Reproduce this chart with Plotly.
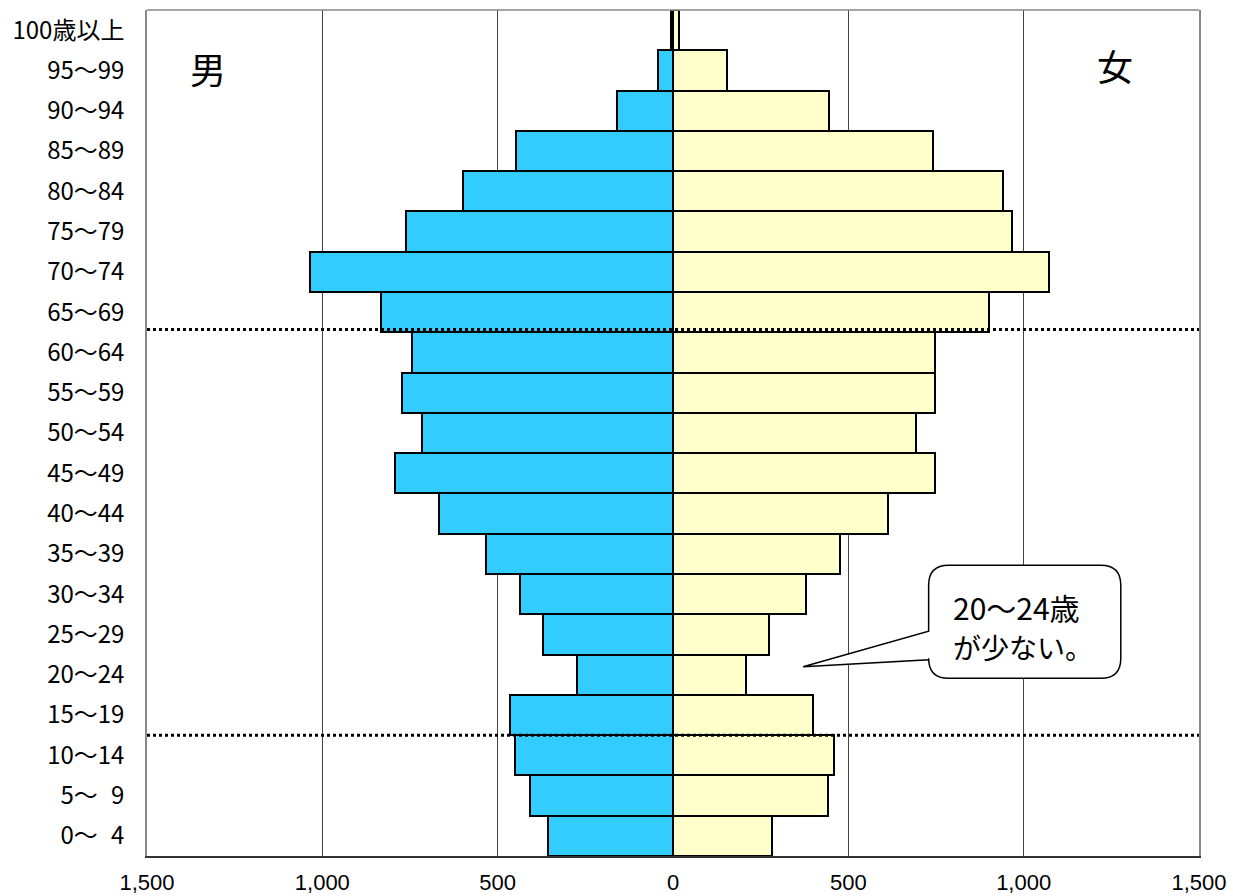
import plotly.graph_objects as go

ages = ["0～\u20074", "5～\u20079", "10～14", "15～19", "20～24", "25～29", "30～34",
        "35～39", "40～44", "45～49", "50～54", "55～59", "60～64", "65～69",
        "70～74", "75～79", "80～84", "85～89", "90～94", "95～99", "100歳以上"]
male = [356, 407, 450, 464, 273, 372, 435, 534, 668, 792, 716, 772, 744, 833,
        1034, 760, 599, 449, 160, 44, 5]
female = [281, 441, 458, 399, 209, 275, 378, 475, 613, 747, 692, 747, 747, 902,
          1073, 966, 942, 742, 445, 154, 18]
x_tickvals = [-1500, -1000, -500, 0, 500, 1000, 1500]
x_ticktext = ["1,500", "1,000", "500", "0", "500", "1,000", "1,500"]

FONT = "Noto Sans CJK JP, Noto Sans, sans-serif"
NUMFONT = "Liberation Sans, Arial, sans-serif"
pos = list(range(len(ages)))

fig = go.Figure()
fig.add_trace(go.Bar(
    y=pos, x=[-v for v in male], orientation="h", name="男",
    marker=dict(color="#33CCFF", line=dict(color="black", width=2)),
    hoverinfo="skip"))
fig.add_trace(go.Bar(
    y=pos, x=female, orientation="h", name="女",
    marker=dict(color="#FFFFCC", line=dict(color="black", width=2)),
    hoverinfo="skip"))

# callout box (data coordinates)
x0, x1 = 729, 1277
y0, y1 = 3.91, 6.72
rx, ry = 57, 0.5
tip_x, tip_y = 371, 4.20
t_lo, t_hi = 4.37, 5.08
path = (f"M {x0+rx},{y1} L {x1-rx},{y1} Q {x1},{y1} {x1},{y1-ry} "
        f"L {x1},{y0+ry} Q {x1},{y0} {x1-rx},{y0} L {x0+rx},{y0} "
        f"Q {x0},{y0} {x0},{y0+ry} L {x0},{t_lo} L {tip_x},{tip_y} "
        f"L {x0},{t_hi} L {x0},{y1-ry} Q {x0},{y1} {x0+rx},{y1} Z")

shapes = [
    dict(type="line", xref="paper", x0=0, x1=1, yref="paper", y0=1, y1=1,
         line=dict(color="#888888", width=1.5)),
    dict(type="line", xref="paper", x0=0, x1=1, yref="y", y0=12.57, y1=12.57,
         line=dict(color="black", width=3, dash="dot")),
    dict(type="line", xref="paper", x0=0, x1=1, yref="y", y0=2.5, y1=2.5,
         line=dict(color="black", width=3, dash="dot")),
    dict(type="path", xref="x", yref="y", path=path, fillcolor="white",
         line=dict(color="black", width=1.5)),
]

annotations = [
    dict(text="男", xref="paper", yref="paper", x=0.058, y=0.931,
         xanchor="center", yanchor="middle",
         showarrow=False, font=dict(size=36, color="black", family=FONT)),
    dict(text="女", xref="paper", yref="paper", x=0.920, y=0.935,
         xanchor="center", yanchor="middle",
         showarrow=False, font=dict(size=36, color="black", family=FONT)),
    dict(text="20～24歳", xref="x", yref="y", x=792, y=5.68,
         xanchor="left", yanchor="middle", align="left", showarrow=False,
         font=dict(size=30, color="black", family=FONT)),
    dict(text="が少ない。", xref="x", yref="y", x=792, y=4.69,
         xanchor="left", yanchor="middle", align="left", showarrow=False,
         font=dict(size=28, color="black", family=FONT)),
]

fig.update_layout(
    width=1233, height=896, autosize=False,
    margin=dict(l=147, r=34, t=10, b=40, pad=0, autoexpand=False),
    paper_bgcolor="white", plot_bgcolor="white",
    barmode="relative", bargap=0, showlegend=False,
    font=dict(family=FONT, color="black"),
    shapes=shapes, annotations=annotations,
    xaxis=dict(range=[-1500, 1500], tickvals=x_tickvals, ticktext=x_ticktext,
               showgrid=True, gridcolor="#444444", gridwidth=1,
               zeroline=False, showline=True, linecolor="#333333",
               linewidth=2, mirror=False, ticks="", automargin=False,
               ticklabelstandoff=6,
               tickfont=dict(size=22, family=NUMFONT, color="black"),
               fixedrange=True),
    yaxis=dict(range=[-0.5, len(ages) - 0.5], tickvals=pos, ticktext=ages,
               showgrid=False, zeroline=False, showline=True,
               linecolor="#888888", linewidth=1.5, mirror=True, ticks="",
               automargin=False, ticklabelstandoff=16,
               tickfont=dict(size=24, family=FONT, color="black"),
               fixedrange=True),
)

fig.write_html("out.html", config={"displayModeBar": False},
               post_script="document.body.style.margin='0';"
                           "document.body.style.overflow='hidden';")
